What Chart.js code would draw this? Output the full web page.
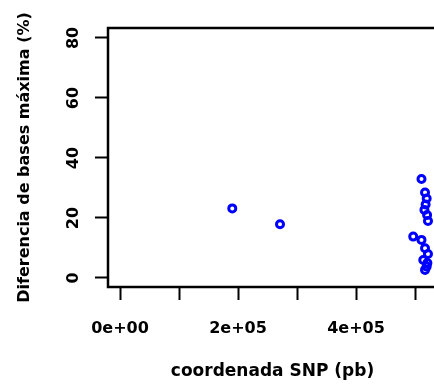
<!DOCTYPE html>
<html>
<head>
<meta charset="utf-8">
<script src="https://cdn.jsdelivr.net/npm/chart.js@4"></script>
<style>
  html, body { margin: 0; padding: 0; background: #fff; overflow: hidden; }
  #wrap { width: 460px; height: 388px; }
</style>
</head>
<body>
<div id="wrap"><canvas id="grafico"></canvas></div>
<script>
// posiciones SNP (pb) y diferencia maxima (%)
const posSNP = [190300, 271200, 511000, 517000, 519800, 518000, 516000, 520500, 522000,
                497000, 511000, 517000, 522000, 514000, 519800, 517000, 521000]
const difMax = [23.2, 17.9, 33.0, 28.5, 26.5, 24.5, 22.7, 21.0, 19.0,
                13.8, 12.7, 9.9, 8.0, 6.0, 3.8, 2.7, 5.0]

const xTicks = [0, 100000, 200000, 300000, 400000, 500000]
const xTickLabels = ['0e+00', '', '2e+05', '', '4e+05', '']
const yTicks = [0, 20, 40, 60, 80]

const puntos = posSNP.map((x, i) => ({ x: x, y: difMax[i] }))

const fuente = 'DejaVu Sans'

const caja = {
  id: 'caja',
  afterDraw(chart) {
    const { ctx, chartArea: a } = chart
    ctx.save()
    ctx.strokeStyle = '#000'
    ctx.lineWidth = 2.5
    ctx.strokeRect(a.left, a.top, a.right - a.left, a.bottom - a.top)
    ctx.restore()
  }
}

const data = {
  datasets: [{
    label: 'SNP',
    data: puntos,
    showLine: false,
    pointStyle: 'circle',
    pointRadius: 3.5,
    pointBorderWidth: 3,
    pointBackgroundColor: 'rgba(0,0,0,0)',
    pointBorderColor: '#0000ff'
  }]
}

const config = {
  type: 'scatter',
  data,
  options: {
    responsive: true,
    maintainAspectRatio: false,
    animation: false,
    layout: { padding: { top: 28, right: 23, left: 0, bottom: 0 } },
    plugins: { legend: { display: false }, tooltip: { enabled: false } },
    scales: {
      x: {
        type: 'linear',
        min: -20339,
        max: 537288,
        afterBuildTicks: s => { s.ticks = xTicks.map(v => ({ value: v })) },
        afterFit: s => { s.height = 101; s.paddingLeft = 0; s.paddingRight = 0 },
        border: { display: false },
        grid: { drawOnChartArea: false, drawTicks: true, tickLength: 13, tickWidth: 2, tickColor: '#000' },
        ticks: {
          autoSkip: false,
          maxRotation: 0,
          padding: 19,
          color: '#000',
          font: { family: fuente, size: 16, weight: 'bold' },
          callback: (v, i) => xTickLabels[i]
        },
        title: {
          display: true,
          text: 'coordenada SNP (pb)',
          color: '#000',
          font: { family: fuente, size: 17, weight: 'bold' },
          padding: { top: 0, bottom: 6 }
        }
      },
      y: {
        type: 'linear',
        min: -3,
        max: 83.33,
        afterBuildTicks: s => { s.ticks = yTicks.map(v => ({ value: v })) },
        afterFit: s => { s.width = 108; s.paddingTop = 0; s.paddingBottom = 0 },
        border: { display: false },
        grid: { drawOnChartArea: false, drawTicks: true, tickLength: 13, tickWidth: 2, tickColor: '#000' },
        ticks: {
          autoSkip: false,
          minRotation: 90,
          maxRotation: 90,
          crossAlign: 'center',
          padding: 10,
          color: '#000',
          font: { family: fuente, size: 16, weight: 'bold' }
        },
        title: {
          display: true,
          text: 'Diferencia de bases máxima (%)',
          color: '#000',
          font: { family: fuente, size: 16, weight: 'bold' },
          padding: { top: 15, bottom: 0 }
        }
      }
    }
  },
  plugins: [caja]
}

document.addEventListener('DOMContentLoaded', () => {
  new Chart(document.getElementById('grafico'), config)
})
</script>
</body>
</html>
